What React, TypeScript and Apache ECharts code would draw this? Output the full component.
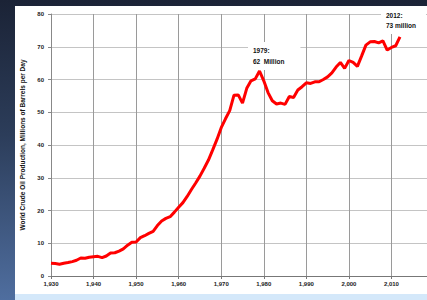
import React, { useEffect, useRef } from "react";
import * as echarts from "echarts";

const years: number[] = [];
for (let y = 1930; y <= 2012; y++) years.push(y);

const production: number[] = [
  3.9, 3.8, 3.6, 3.9, 4.1, 4.4, 4.8, 5.5, 5.4, 5.7,
  5.9, 6.0, 5.6, 6.1, 7.0, 7.1, 7.6, 8.3, 9.4, 10.3,
  10.4, 11.7, 12.3, 13.0, 13.6, 15.4, 16.8, 17.6, 18.1, 19.5,
  21.0, 22.4, 24.3, 26.4, 28.4, 30.5, 32.9, 35.4, 38.5, 41.7,
  45.3, 48.0, 50.5, 55.2, 55.3, 52.8, 57.3, 59.6, 60.2, 62.6,
  59.6, 56.0, 53.5, 52.5, 52.8, 52.4, 54.8, 54.5, 56.8, 57.8,
  59.0, 58.8, 59.3, 59.3, 60.0, 60.8, 62.0, 63.8, 65.2, 63.4,
  65.8, 65.2, 64.0, 67.2, 70.5, 71.5, 71.6, 71.2, 71.8, 69.0,
  69.8, 70.3, 73.0,
];

const yAxisName = "World Crude Oil Production, Millions of Barrels per Day";
const note1979 = "1979:\n62  Million";
const note2012 = "2012:\n73 million";

export default function App() {
  const ref = useRef<HTMLDivElement>(null);
  useEffect(() => {
    if (!ref.current) return;
    const chart = echarts.init(ref.current, null, { renderer: "svg" });
    const data = years.map((y, i) => [y, production[i]]);
    chart.setOption({
      animation: false,
      backgroundColor: "transparent",
      grid: {
        left: 51,
        top: 14,
        width: 383,
        height: 262,
        containLabel: false,
        outerBoundsMode: "none",
      },
      xAxis: {
        type: "value",
        min: 1930,
        max: 2020,
        interval: 10,
        axisLine: { show: true, lineStyle: { color: "#777", width: 1 } },
        axisTick: { show: true, length: 3, lineStyle: { color: "#777" } },
        axisLabel: {
          color: "#222",
          fontSize: 6,
          fontWeight: "bold",
          fontFamily: "Liberation Sans, Arial",
          margin: 5,
          showMaxLabel: false,
        },
        splitLine: { show: true, lineStyle: { color: "#9a9a9a", width: 1 } },
      },
      yAxis: {
        type: "value",
        min: 0,
        max: 80,
        interval: 10,
        name: yAxisName,
        nameLocation: "middle",
        nameGap: 19,
        nameTextStyle: {
          color: "#111",
          fontSize: 6.5,
          fontWeight: "bold",
          fontFamily: "Liberation Sans, Arial",
        },
        axisLine: { show: true, lineStyle: { color: "#888", width: 1 } },
        axisTick: { show: true, length: 3, lineStyle: { color: "#888" } },
        axisLabel: {
          color: "#222",
          fontSize: 6,
          fontWeight: "bold",
          fontFamily: "Liberation Sans, Arial",
          margin: 7,
        },
        splitLine: { show: true, lineStyle: { color: "#c4c4c4", width: 1 } },
      },
      series: [
        {
          type: "line",
          data,
          showSymbol: false,
          symbol: "none",
          lineStyle: { color: "#ff0000", width: 3 },
          itemStyle: { color: "#ff0000" },
          z: 5,
        },
      ],
      graphic: [
        {
          type: "text",
          x: 248,
          y: 42,
          z: 100,
          style: {
            text: note1979,
            font: "bold 6.5px Liberation Sans, Arial",
            fill: "#111",
            backgroundColor: "#fff",
            padding: [3, 16, 3, 5],
            lineHeight: 11,
          },
        },
        {
          type: "text",
          x: 381,
          y: 7,
          z: 100,
          style: {
            text: note2012,
            font: "bold 6.5px Liberation Sans, Arial",
            fill: "#111",
            backgroundColor: "#fff",
            padding: [3, 10, 4, 5],
            lineHeight: 10,
          },
        },
      ],
    });
    return () => chart.dispose();
  }, []);

  return (
    <div
      style={{
        position: "fixed",
        left: 0,
        top: 0,
        width: 427,
        height: 300,
        overflow: "hidden",
        background: "linear-gradient(to bottom, #1b2336 0%, #2c3d5a 45%, #4f6e9f 100%)",
      }}
    >
      <div
        style={{
          position: "absolute",
          left: 15,
          top: 6,
          width: 412,
          height: 288,
          background: "#ffffff",
        }}
      />
      <div
        style={{
          position: "absolute",
          left: 15,
          top: 294,
          width: 412,
          height: 6,
          background: "#d4e8fa",
        }}
      />
      <div
        ref={ref}
        style={{ position: "absolute", left: 0, top: 0, width: 427, height: 300 }}
      />
    </div>
  );
}
